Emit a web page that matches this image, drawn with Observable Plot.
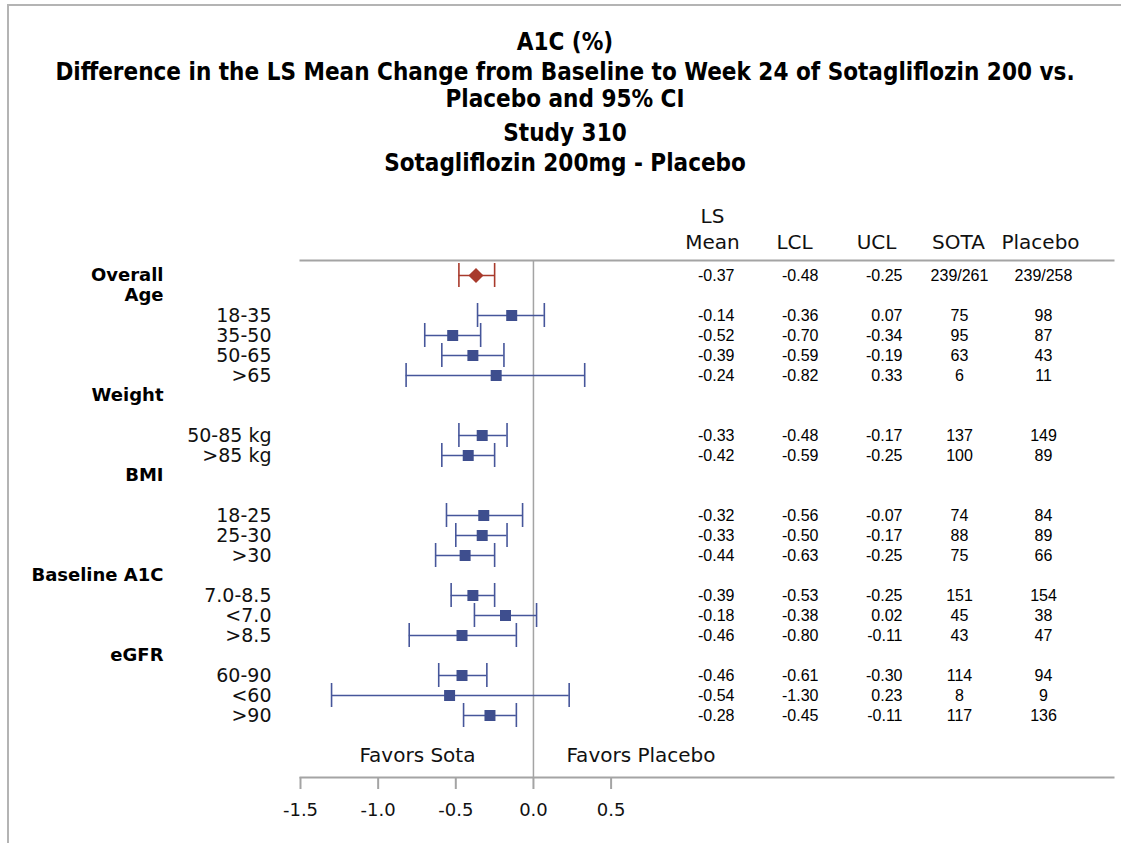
<!DOCTYPE html>
<html>
<head>
<meta charset="utf-8">
<script src="https://cdn.jsdelivr.net/npm/d3@7"></script>
<script src="https://cdn.jsdelivr.net/npm/@observablehq/plot@0.6"></script>
<style>
  html, body { margin: 0; padding: 0; background: #fff; }
  #wrap { position: relative; width: 1121px; height: 843px; overflow: hidden; }
  #border { position: absolute; left: 7px; top: 4px; right: 0; bottom: 0;
            border-top: 2px solid #b4b4b4; border-left: 2px solid #b4b4b4; }
  #title { position: absolute; left: 9px; right: 0; top: 27px; text-align: center;
           font-family: "DejaVu Sans Condensed", "DejaVu Sans", sans-serif; font-weight: bold;
           font-size: 24px; color: #000; }
  #title div { white-space: nowrap; }
  #plot, #table { position: absolute; left: 0; top: 190px; }
</style>
</head>
<body>
<div id="wrap">
  <div id="border"></div>
  <div id="title">
    <div style="line-height:30px">A1C (%)</div>
    <div style="line-height:27px;margin-top:2px">Difference in the LS Mean Change from Baseline to Week 24 of Sotagliflozin 200 vs.<br>Placebo and 95% CI</div>
    <div style="line-height:30px;margin-top:5px">Study 310</div>
    <div style="line-height:30px">Sotagliflozin 200mg - Placebo</div>
  </div>
  <div id="plot"></div>
  <div id="table"></div>
</div>
<script>
// ---- data ----
const labels = ["Overall","Age","18-35","35-50","50-65",">65","Weight","","50-85 kg",">85 kg","BMI","","18-25","25-30",">30","Baseline A1C","7.0-8.5","<7.0",">8.5","eGFR","60-90","<60",">90"];
const isHeading = [1,1,0,0,0,0,1,0,0,0,1,0,0,0,0,1,0,0,0,1,0,0,0];
const lsMean = [-0.37,null,-0.14,-0.52,-0.39,-0.24,null,null,-0.33,-0.42,null,null,-0.32,-0.33,-0.44,null,-0.39,-0.18,-0.46,null,-0.46,-0.54,-0.28];
const lcl    = [-0.48,null,-0.36,-0.70,-0.59,-0.82,null,null,-0.48,-0.59,null,null,-0.56,-0.50,-0.63,null,-0.53,-0.38,-0.80,null,-0.61,-1.30,-0.45];
const ucl    = [-0.25,null, 0.07,-0.34,-0.19, 0.33,null,null,-0.17,-0.25,null,null,-0.07,-0.17,-0.25,null,-0.25, 0.02,-0.11,null,-0.30, 0.23,-0.11];
const sotaN    = ["239/261","","75","95","63","6","","","137","100","","","74","88","75","","151","45","43","","114","8","117"];
const placeboN = ["239/258","","98","87","43","11","","","149","89","","","84","89","66","","154","38","47","","94","9","136"];
const columns = ["LS\nMean","LCL","UCL","SOTA","Placebo"];
const xTicks = [-1.5, -1.0, -0.5, 0.0, 0.5];
const favors = ["Favors Sota", "Favors Placebo"];

// ---- derived tables ----
const rows = labels.map((label, i) => ({
  key: String(i), label, heading: !!isHeading[i], overall: i === 0,
  mean: lsMean[i], lcl: lcl[i], ucl: ucl[i], sota: sotaN[i], placebo: placeboN[i]
}));
const yDomain = [...rows.map(r => r.key), "gap", "favors"];
const dataRows = rows.filter(r => r.mean != null);
const subRows = dataRows.filter(r => !r.overall);
const overallRows = dataRows.filter(r => r.overall);
const headingRows = rows.filter(r => r.heading);
const labelRows = rows.filter(r => !r.heading && r.label !== "");

const BLUE = "#46569a";
const BLUE_FILL = "#3e4e8e";
const RED = "#a83a2c";
const GRAY = "#a4a4a4";
const colorOf = r => r.overall ? RED : BLUE;

const yScale = () => ({type: "band", domain: yDomain, padding: 0, insetTop: 3, insetBottom: 10.5, axis: null});
const common = {width: 1121, height: 653, marginTop: 70, marginBottom: 66};

const main = Plot.plot({
  ...common, marginLeft: 300, marginRight: 8,
  style: {fontFamily: "DejaVu Sans", background: "transparent", color: "#000"},
  x: {domain: [-1.5, 3.735], axis: null},
  y: yScale(),
  marks: [
    Plot.frame({anchor: "top", stroke: GRAY, strokeWidth: 2}),
    Plot.frame({anchor: "bottom", stroke: GRAY, strokeWidth: 2}),
    Plot.ruleX([0], {stroke: GRAY, strokeWidth: 1.5}),
    Plot.axisX({ticks: xTicks, tickFormat: d => d.toFixed(1), tickSize: 12, tickPadding: 14,
                stroke: GRAY, strokeWidth: 2, fontSize: 18, fill: "#111"}),
    Plot.ruleY(dataRows, {y: "key", x1: "lcl", x2: "ucl", stroke: colorOf, strokeWidth: 1.6}),
    Plot.tickX(dataRows, {x: "lcl", y: "key", stroke: colorOf, strokeWidth: 1.6, insetTop: -2, insetBottom: -2}),
    Plot.tickX(dataRows, {x: "ucl", y: "key", stroke: colorOf, strokeWidth: 1.6, insetTop: -2, insetBottom: -2}),
    Plot.dot(subRows, {x: "mean", y: "key", symbol: "square", r: 6.2, fill: BLUE_FILL}),
    Plot.dot(overallRows, {x: "mean", y: "key", symbol: "diamond2", r: 6.8, fill: RED}),
    Plot.text(headingRows, {y: "key", text: "label", frameAnchor: "left", textAnchor: "end", dx: -137,
                            fontWeight: "bold", fontSize: 18, fill: "#000"}),
    Plot.text(labelRows, {y: "key", text: "label", frameAnchor: "left", textAnchor: "end", dx: -29,
                          fontSize: 19, fill: "#111"}),
    Plot.text([favors[0]], {x: () => 0, y: () => "favors", text: d => d, textAnchor: "end", dx: -58, fontSize: 20, fill: "#111"}),
    Plot.text([favors[1]], {x: () => 0, y: () => "favors", text: d => d, textAnchor: "start", dx: 33, fontSize: 20, fill: "#111"})
  ]
});
document.getElementById("plot").appendChild(main);

const fmt = v => v.toFixed(2);
const numFont = {fontFamily: "Liberation Sans, Arial, sans-serif", fontSize: 16, fill: "#000"};
const table = Plot.plot({
  ...common, marginLeft: 0, marginRight: 0,
  style: {fontFamily: "DejaVu Sans", background: "transparent", color: "#000"},
  x: {type: "point", domain: columns, range: [713, 1044], padding: 0, axis: null},
  y: yScale(),
  marks: [
    Plot.text(columns, {x: d => d, text: d => d, frameAnchor: "top", lineAnchor: "bottom", dy: -12, dx: -3,
                        fontSize: 20, lineHeight: 1.3, fill: "#111"}),
    Plot.text(dataRows, {x: () => columns[0], y: "key", text: d => fmt(d.mean), textAnchor: "end", dx: 19, ...numFont}),
    Plot.text(dataRows, {x: () => columns[1], y: "key", text: d => fmt(d.lcl), textAnchor: "end", dx: 21, ...numFont}),
    Plot.text(dataRows, {x: () => columns[2], y: "key", text: d => fmt(d.ucl), textAnchor: "end", dx: 23, ...numFont}),
    Plot.text(dataRows, {x: () => columns[3], y: "key", text: "sota", textAnchor: "middle", dx: -2, ...numFont}),
    Plot.text(dataRows, {x: () => columns[4], y: "key", text: "placebo", textAnchor: "middle", ...numFont})
  ]
});
document.getElementById("table").appendChild(table);
</script>
</body>
</html>
